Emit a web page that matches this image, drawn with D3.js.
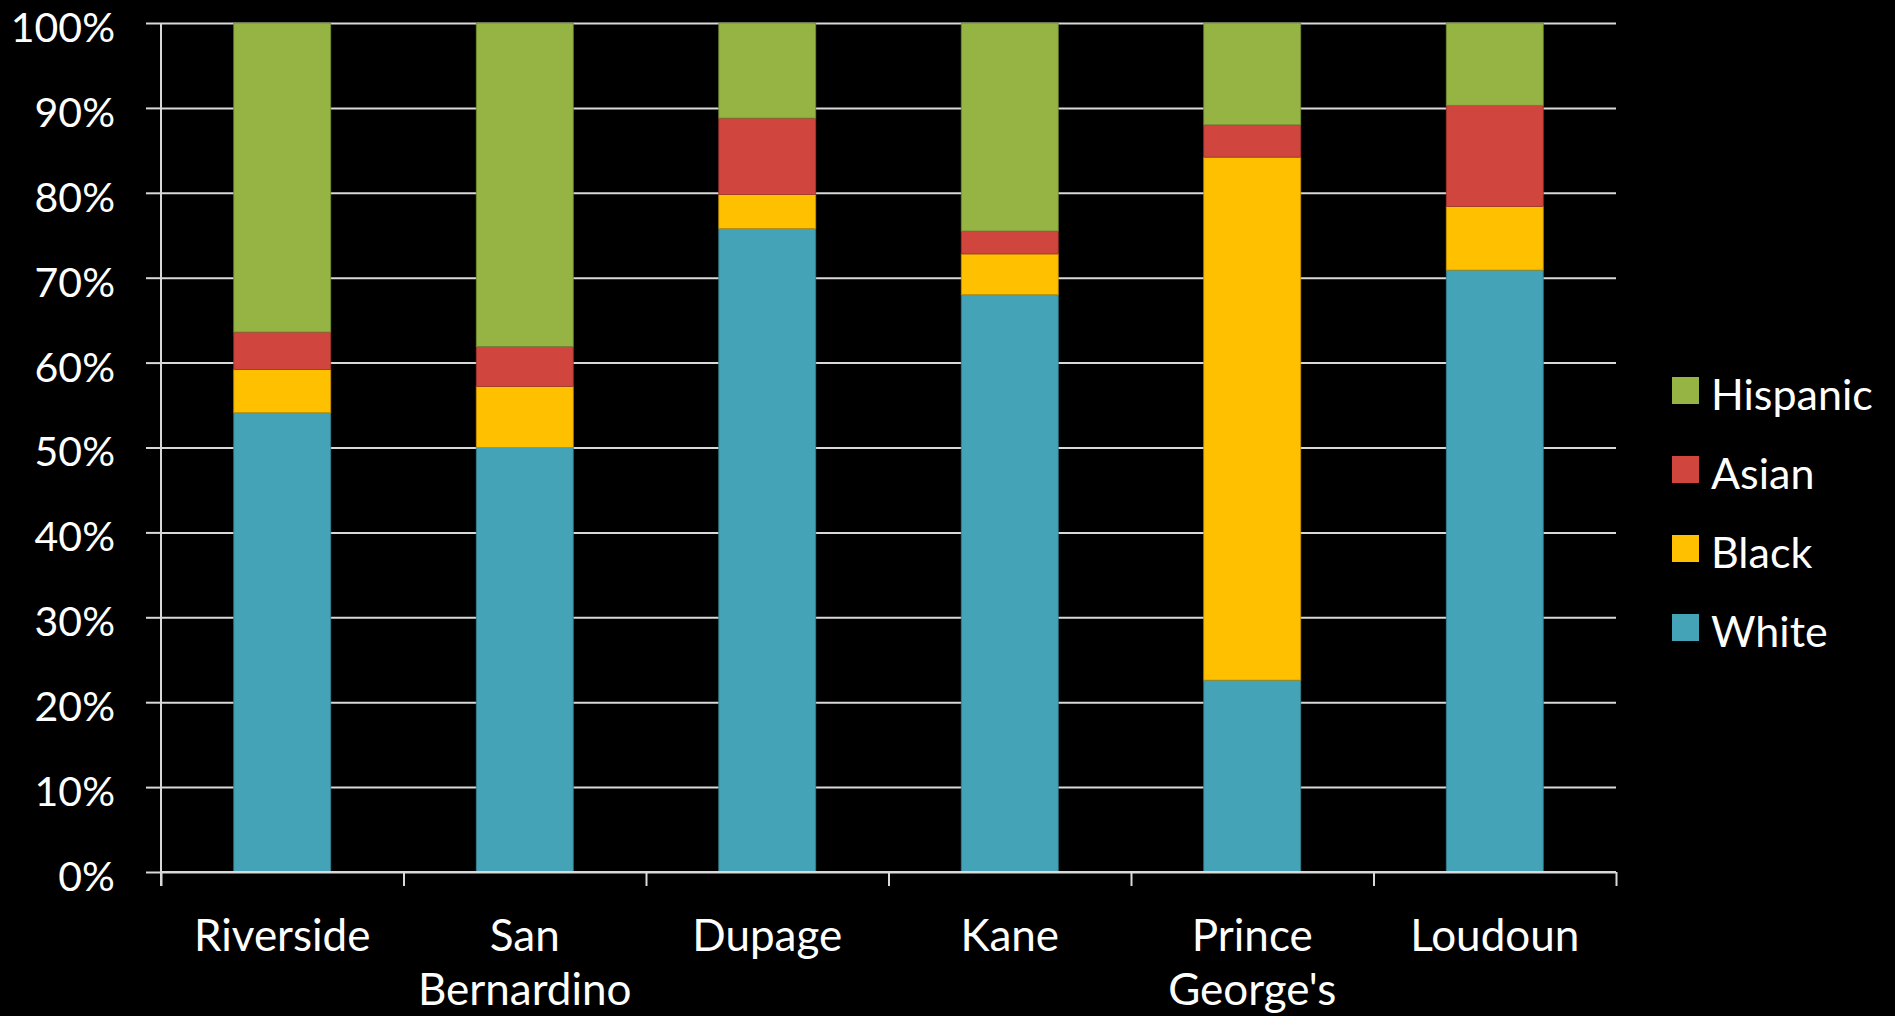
<!DOCTYPE html>
<html>
<head>
<meta charset="utf-8">
<script src="https://cdn.jsdelivr.net/npm/d3@7"></script>
<style>
  html, body { margin: 0; padding: 0; background: #000; }
  svg { display: block; }
  text { font-family: Lato, "Open Sans", sans-serif; fill: #fff; }
</style>
</head>
<body>
<svg id="chart" width="1895" height="1016"></svg>
<script>
const categories = ["Riverside", "San Bernardino", "Dupage", "Kane", "Prince George's", "Loudoun"];
const categoryLines = [["Riverside"], ["San", "Bernardino"], ["Dupage"], ["Kane"], ["Prince", "George's"], ["Loudoun"]];
const seriesNames = ["White", "Black", "Asian", "Hispanic"];
const white    = [54.1, 50.0, 75.8, 68.0, 22.6, 70.9];
const black    = [5.1, 7.2, 4.0, 4.8, 61.6, 7.5];
const asian    = [4.4, 4.7, 9.0, 2.7, 3.8, 11.9];
const hispanic = [36.4, 38.1, 11.2, 24.5, 12.0, 9.7];
const seriesColors = ["#45a3b7", "#ffc000", "#d0453e", "#95b444"];
const yTickValues = [0, 10, 20, 30, 40, 50, 60, 70, 80, 90, 100];
const yTickLabels = ["0%", "10%", "20%", "30%", "40%", "50%", "60%", "70%", "80%", "90%", "100%"];
const legendOrder = ["Hispanic", "Asian", "Black", "White"];

const seriesValues = [white, black, asian, hispanic];
const rows = categories.map((c, i) => {
  const r = { category: c };
  seriesNames.forEach((s, k) => r[s] = seriesValues[k][i]);
  return r;
});

const svg = d3.select("#chart");
const x0 = 161, x1 = 1616, yTop = 23, yBot = 872;

const x = d3.scaleBand().domain(categories).range([x0, x1]).paddingInner(0.6).paddingOuter(0.3);
const y = d3.scaleLinear().domain([0, 100]).range([yBot, yTop]);
const color = d3.scaleOrdinal().domain(seriesNames).range(seriesColors);

// gridlines
const grid = svg.append("g").attr("transform", `translate(${x0},0)`)
  .call(d3.axisLeft(y).tickValues(yTickValues).tickSize(-(x1 - x0)).tickFormat(""));
grid.select(".domain").remove();
grid.selectAll("line").attr("stroke", "#d9d9d9").attr("stroke-width", 2);

// stacked bars
const stack = d3.stack().keys(seriesNames);
const layers = stack(rows);
svg.append("g").selectAll("g").data(layers).join("g")
  .attr("fill", d => color(d.key))
  .attr("stroke", d => d3.color(color(d.key)).darker(0.8))
  .attr("stroke-width", 0.8)
  .selectAll("rect").data(d => d).join("rect")
  .attr("x", d => x(d.data.category))
  .attr("width", x.bandwidth())
  .attr("y", d => y(d[1]))
  .attr("height", d => y(d[0]) - y(d[1]));

// y axis
const yAxis = svg.append("g").attr("transform", `translate(${x0},0)`)
  .call(d3.axisLeft(y).tickValues(yTickValues).tickSize(15).tickPadding(31)
    .tickFormat((d, i) => yTickLabels[i]));
yAxis.select(".domain").attr("stroke", "#d9d9d9").attr("stroke-width", 2).attr("d", `M0,${yTop}V${yBot + 14}`);
yAxis.selectAll("line").attr("stroke", "#d9d9d9").attr("stroke-width", 2);
yAxis.selectAll("text").attr("font-size", 41).attr("fill", "#fff").attr("dy", "0.45em")
  .style("font-family", "Lato, sans-serif");

// x axis boundary ticks
const xIdx = d3.scaleLinear().domain([0, categories.length]).range([x0, x1]);
const xAxis = svg.append("g").attr("transform", `translate(0,${yBot})`)
  .call(d3.axisBottom(xIdx).tickValues(d3.range(categories.length + 1)).tickSize(14).tickFormat(""));
xAxis.select(".domain").attr("stroke", "#d9d9d9").attr("stroke-width", 2).attr("d", `M${x0},0H${x1}`);
xAxis.selectAll("line").attr("stroke", "#d9d9d9").attr("stroke-width", 2);

// category labels
const labels = svg.append("g").selectAll("text").data(categories).join("text")
  .attr("x", d => x(d) + x.bandwidth() / 2)
  .attr("y", 951)
  .attr("text-anchor", "middle")
  .attr("font-size", 44);
labels.each(function(d, i) {
  d3.select(this).selectAll("tspan").data(categoryLines[i]).join("tspan")
    .attr("x", x(d) + x.bandwidth() / 2)
    .attr("dy", (t, j) => j === 0 ? 0 : 54)
    .text(t => t);
});

// legend
const legend = svg.append("g").attr("transform", "translate(1672,377)");
const li = legend.selectAll("g").data(legendOrder).join("g")
  .attr("transform", (d, i) => `translate(0,${i * 79})`);
li.append("rect").attr("width", 27).attr("height", 27).attr("fill", d => color(d));
li.append("text").attr("x", 39).attr("y", 33).attr("font-size", 43).text(d => d);
</script>
</body>
</html>
